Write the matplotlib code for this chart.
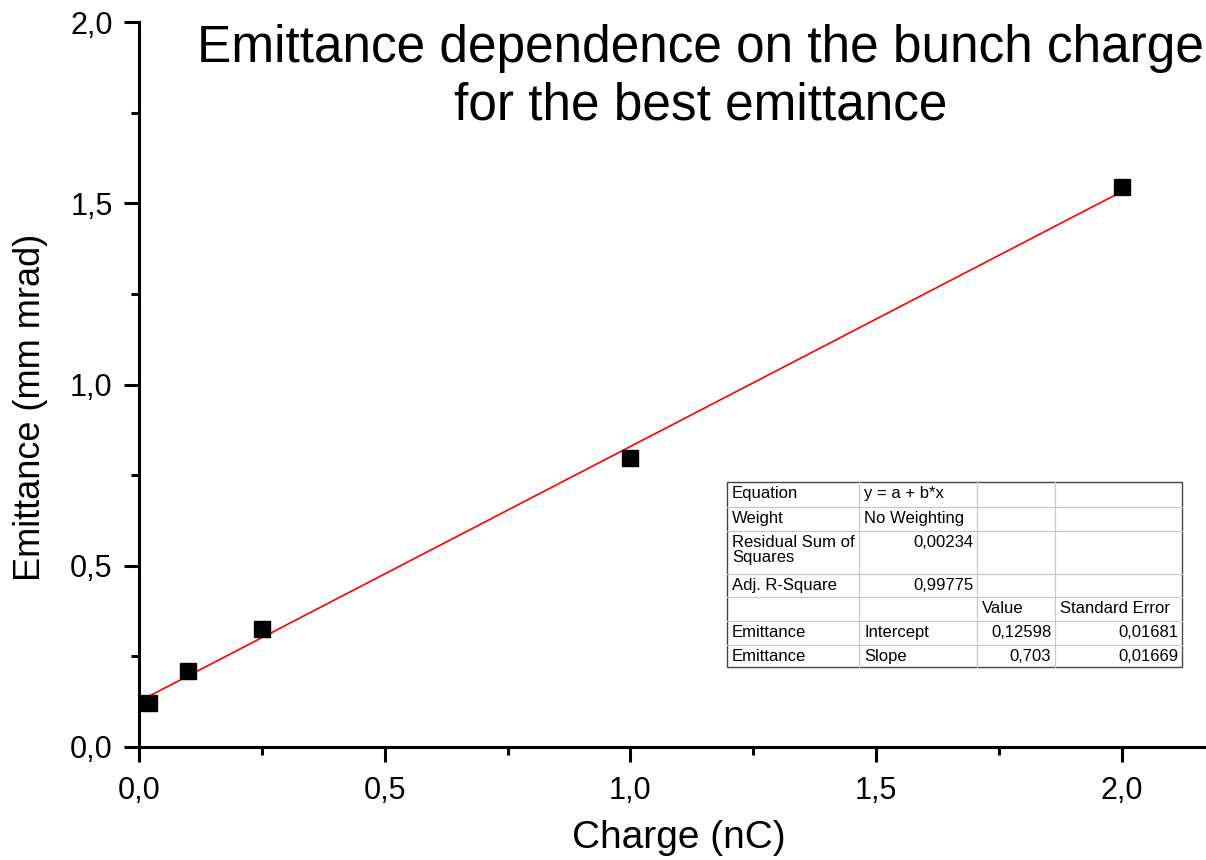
import matplotlib
matplotlib.use('Agg')
import matplotlib.pyplot as plt
import numpy as np
from matplotlib.ticker import MultipleLocator, FuncFormatter

plt.rcParams['font.family'] = ['Liberation Sans', 'DejaVu Sans']

# data
charge = [0.02, 0.1, 0.25, 1.0, 2.0]
emittance = [0.121, 0.21, 0.326, 0.797, 1.545]
intercept = 0.12598
slope = 0.703

# fit table contents
table_rows = [
    ['Equation', 'y = a + b*x', '', ''],
    ['Weight', 'No Weighting', '', ''],
    ['Residual Sum of\nSquares', '0,00234', '', ''],
    ['Adj. R-Square', '0,99775', '', ''],
    ['', '', 'Value', 'Standard Error'],
    ['Emittance', 'Intercept', '0,12598', '0,01681'],
    ['Emittance', 'Slope', '0,703', '0,01669'],
]


def comma(v, pos):
    return ('%.1f' % v).replace('.', ',')


fig = plt.figure(figsize=(12.06, 8.6), dpi=100)
ax = fig.add_axes([0.1153, 0.1314, 0.884, 0.843])

ax.plot(charge, emittance, 's', color='black', markersize=12, zorder=3)
xf = np.array([charge[0], charge[-1]])
ax.plot(xf, intercept + slope * xf, color='red', lw=1.2, zorder=2)

ax.set_xlim(0, 2.17)
ax.set_ylim(0, 2.0)
for s in ['top', 'right']:
    ax.spines[s].set_visible(False)
for s in ['left', 'bottom']:
    ax.spines[s].set_linewidth(2.2)

ax.xaxis.set_major_locator(MultipleLocator(0.5))
ax.xaxis.set_minor_locator(MultipleLocator(0.25))
ax.yaxis.set_major_locator(MultipleLocator(0.5))
ax.yaxis.set_minor_locator(MultipleLocator(0.25))
ax.xaxis.set_major_formatter(FuncFormatter(comma))
ax.yaxis.set_major_formatter(FuncFormatter(comma))
ax.tick_params(which='major', direction='out', length=11, width=2.2, labelsize=22, pad=8)
ax.tick_params(which='minor', direction='out', length=6, width=2.2)
ax.tick_params(axis='x', which='major', pad=10)

ax.set_xlabel('Charge (nC)', fontsize=28, va='center')
ax.xaxis.set_label_coords(0.506, -0.1255)
ax.set_ylabel('Emittance (mm mrad)', fontsize=26, va='center')
ax.yaxis.set_label_coords(-0.102, 0.468)

ax.text(0.527, 0.924, 'Emittance dependence on the bunch charge\nfor the best emittance',
        transform=ax.transAxes, ha='center', va='center', fontsize=37, linespacing=1.22)

# fit results table, drawn in axes fraction
W, H = 1066.0, 725.0
x0, y_top = (727 - 139) / W, (747 - 482) / H
col_w = [132, 118, 78, 127]
row_h = [24.5, 24.5, 43, 23, 24, 24, 22.5]
col_x = x0 + np.concatenate([[0], np.cumsum(col_w)]) / W
row_y = y_top - np.concatenate([[0], np.cumsum(row_h)]) / H

ax.add_patch(plt.Rectangle((col_x[0], row_y[-1]), col_x[-1] - col_x[0], row_y[0] - row_y[-1],
                           transform=ax.transAxes, fill=True, fc='white', ec='#444444', lw=1.0, zorder=4))
for yy in row_y[1:-1]:
    ax.plot([col_x[0], col_x[-1]], [yy, yy], transform=ax.transAxes, color='#c8c8c8', lw=0.9, zorder=5)
for xx in col_x[1:-1]:
    ax.plot([xx, xx], [row_y[0], row_y[-1]], transform=ax.transAxes, color='#c8c8c8', lw=0.9, zorder=5)

for i, row in enumerate(table_rows):
    for j, txt in enumerate(row):
        if not txt:
            continue
        is_num = txt[0].isdigit()
        if is_num:
            xt, ha = col_x[j + 1] - 4 / W, 'right'
        else:
            xt, ha = col_x[j] + 5 / W, 'left'
        ax.text(xt, row_y[i] - 4 / H, txt, transform=ax.transAxes, ha=ha, va='top',
                fontsize=12, linespacing=1.0, zorder=6)

fig.savefig('out.png', dpi=100)
